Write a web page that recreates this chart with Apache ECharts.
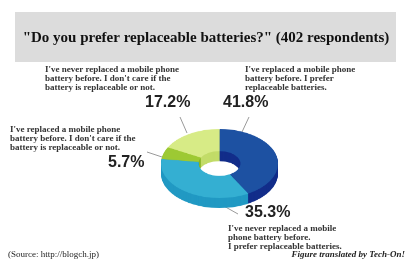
<!DOCTYPE html>
<html><head><meta charset="utf-8">
<script src="https://cdn.jsdelivr.net/npm/echarts@6/dist/echarts.min.js"></script>
<style>
html,body{margin:0;padding:0;background:#fff;width:414px;height:272px;overflow:hidden}
#base{position:absolute;left:0;top:0;width:414px;height:272px}
#pie{position:absolute;left:0;top:0;width:414px;height:272px;transform-origin:219.5px 163.5px;transform:scaleY(0.59)}
</style>
</head><body>
<div id="base"></div><div id="pie"></div>
<script>
const titleText = '"Do you prefer replaceable batteries?" (402 respondents)';
const categories = [
  "I've replaced a mobile phone\nbattery before. I prefer\nreplaceable batteries.",
  "I've never replaced a mobile\nphone battery before.\nI prefer replaceable batteries.",
  "I've replaced a mobile phone\nbattery before. I don't care if the\nbattery is replaceable or not.",
  "I've never replaced a mobile phone\nbattery before. I don't care if the\nbattery is replaceable or not."
];
const values = [41.8, 35.3, 5.7, 17.2];
const sourceText = '(Source: http://blogch.jp)';
const creditText = 'Figure translated by Tech-On!';

const topColors = ['#1d51a2', '#34afd2', '#9dc933', '#d7eb86'];
const sideColors = ['#122d8a', '#2199c3', '#86b424', '#c2dc68'];

// layout (screen px)
const textPos = [[245, 65], [228, 224], [10, 125], [45, 65]];
const pctPos = [[223, 103], [245, 213], [108, 163], [145, 103]];
const leaders = [[[249,117],[242,132]], [[222,205],[238,214]], [[147,152],[162,157]], [[180,117],[187,133]]];

const serif = '"Liberation Serif", "DejaVu Serif", serif';
const sans = '"Liberation Sans", Arial, sans-serif';

const graphics = [
  {type:'rect', shape:{x:15, y:12, width:381, height:50}, style:{fill:'#dcdcdc'}},
  {type:'text', x:206, y:38, style:{text:titleText, font:'bold 15px ' + serif, fill:'#111', align:'center', verticalAlign:'middle'}},
  {type:'text', x:8, y:255, style:{text:sourceText, font:'9px ' + serif, fill:'#222', align:'left', verticalAlign:'middle'}},
  {type:'text', x:405, y:255, style:{text:creditText, font:'italic bold 9px ' + serif, fill:'#222', align:'right', verticalAlign:'middle'}}
];
categories.forEach((c, i) => {
  graphics.push({type:'text', x:textPos[i][0], y:textPos[i][1], style:{text:c, font:'bold 9px ' + serif, lineHeight:9, fill:'#333', align:'left', verticalAlign:'top'}});
  graphics.push({type:'text', x:pctPos[i][0], y:pctPos[i][1], style:{text:values[i].toFixed(1) + '%', font:'bold 16px ' + sans, fill:'#222', align:'left', verticalAlign:'middle'}});
  graphics.push({type:'line', shape:{x1:leaders[i][0][0], y1:leaders[i][0][1], x2:leaders[i][1][0], y2:leaders[i][1][1]}, style:{stroke:'#9a9a9a', lineWidth:1}});
});

const base = echarts.init(document.getElementById('base'));
base.setOption({animation:false, graphic:graphics});

const cx = 219.5, cy = 163.5, rIn = 21, rOut = 58.5, depth = 17;
const series = [];
for (let k = depth; k >= 1; k--) {
  series.push({
    type:'pie', silent:true, center:[cx, cy + k], radius:[rIn, rOut], startAngle:90, clockwise:true,
    label:{show:false}, labelLine:{show:false}, z: 2,
    data: values.map((v, i) => ({value:v, name:'s'+i, itemStyle:{color:sideColors[i]}}))
  });
}
series.push({
  type:'pie', silent:true, center:[cx, cy], radius:[rIn, rOut], startAngle:90, clockwise:true,
  label:{show:false}, labelLine:{show:false}, z: 3,
  data: values.map((v, i) => ({value:v, name:'t'+i, itemStyle:{color:topColors[i]}}))
});
const pie = echarts.init(document.getElementById('pie'));
pie.setOption({animation:false, series:series});
</script>
</body></html>
